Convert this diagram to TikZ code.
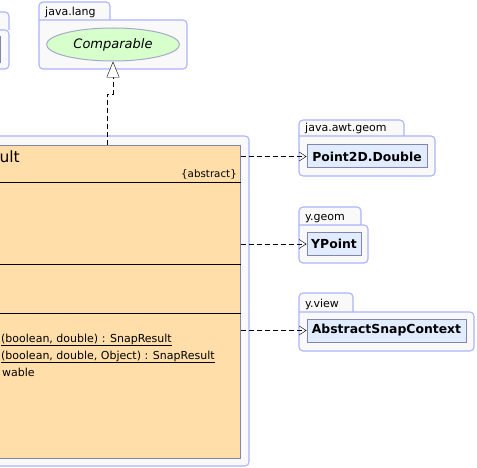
\documentclass[tikz,border=0pt]{standalone}
\usepackage{fontspec}
\setmainfont{DejaVu Sans}
\usetikzlibrary{shapes.geometric,arrows.meta}
\definecolor{pkgline}{RGB}{170,180,255}
\definecolor{pkgfill}{RGB}{249,249,249}
\definecolor{typeline}{RGB}{128,134,176}
\definecolor{typefill}{RGB}{226,236,255}
\definecolor{classfill}{RGB}{255,222,170}
\definecolor{ifacefill}{RGB}{214,255,204}
\begin{document}
\begin{tikzpicture}[x=1pt, y=-1pt,
    pkg/.style={draw=pkgline, fill=pkgfill, rounded corners=4pt, line width=1.1pt},
    pkglabel/.style={anchor=base west, inner sep=0pt, font=\fontsize{11}{13}\selectfont},
    type/.style={draw=typeline, fill=typefill, line width=1pt, inner sep=0pt, font=\fontsize{12.4}{15}\selectfont\bfseries},
    member/.style={anchor=base west, inner sep=0pt, font=\fontsize{11}{13}\selectfont},
    dep/.style={dash pattern=on 5pt off 3pt, -{Straight Barb[length=7pt,width=9pt]}},
    realize/.style={dash pattern=on 5pt off 3pt, -{Triangle[length=16pt,width=13pt,fill=white]}}]
    \useasboundingbox (0,0) rectangle (477,468);
    \clip (0,0) rectangle (477,468);

    \draw[pkg] (-60,30) -- (-60,12) -- (9,12) -- (9,30);
    \draw[pkg] (-60,30) -- (9,30) -- (9,69) -- (-60,69) -- (-60,30);
    \node[type, minimum width=61pt, minimum height=26pt, anchor=north east] (leftcls) at (1,36) {};

    \draw[pkg] (39,20) -- (39,2) -- (110,2) -- (110,20);
    \draw[pkg] (39,20) -- (187,20) -- (187,69) -- (39,69) -- (39,20);
    \node[pkglabel] (langlbl) at (45,16) {java.lang};
    \node[ellipse, draw=typeline!70, fill=ifacefill, line width=1pt, minimum width=133pt, minimum height=33pt, inner sep=0pt,
        font=\fontsize{13}{15}\selectfont\itshape] (cmp) at (113,44.5) {Comparable};

    \draw[pkg] (-60,136) -- (249,136) -- (249,466) -- (-60,466);
    \node[draw=typeline, fill=classfill, line width=1pt, minimum width=320pt, minimum height=313pt, inner sep=0pt,
        anchor=north east] (snap) at (241,145) {};
    \foreach \y in {183,264,313}
        \draw[line width=1pt] (snap.west |- 0,\y) -- (snap.east |- 0,\y);
    \node[anchor=base east, inner sep=0pt, font=\fontsize{15.5}{18}\selectfont] (title) at (20,163) {ult};
    \node[anchor=base east, inner sep=0pt, font=\fontsize{10.3}{12}\selectfont] (abs) at (237,178) {\{abstract\}};
    \node[member] (m1) at (1,342) {\underline{(boolean,\ double) : SnapResult}};
    \node[member] (m2) at (1,359) {\underline{(boolean,\ double,\ Object) : SnapResult}};
    \node[member] (m3) at (2,376) {wable};

    \draw[pkg] (299,136) -- (299,120) -- (404,120) -- (404,136);
    \draw[pkg] (299,136) -- (435,136) -- (435,176) -- (299,176) -- (299,136);
    \node[pkglabel] (awtlbl) at (305,132) {java.awt.geom};
    \node[type, minimum width=120pt, minimum height=23pt] (p2d) at (367,156.5) {Point2D.Double};

    \draw[pkg] (299,225) -- (299,207) -- (361,207) -- (361,225);
    \draw[pkg] (299,225) -- (368,225) -- (368,263) -- (299,263) -- (299,225);
    \node[pkglabel] (geomlbl) at (305,220.5) {y.geom};
    \node[type, minimum width=54pt, minimum height=22pt] (ypt) at (334,244) {YPoint};

    \draw[pkg] (299,312) -- (299,293) -- (353,293) -- (353,312);
    \draw[pkg] (299,312) -- (474,312) -- (474,351) -- (299,351) -- (299,312);
    \node[pkglabel] (viewlbl) at (305,307.5) {y.view};
    \node[type, minimum width=159pt, minimum height=23pt] (asc) at (386.5,330.5) {AbstractSnapContext};

    \coordinate (bend) at (107,94);
    \draw[realize] (bend |- snap.north) -- (bend) -| (cmp.south);
    \draw[dep] (snap.east |- p2d.west) -- (p2d.west);
    \draw[dep] (snap.east |- ypt.west) -- (ypt.west);
    \draw[dep] (snap.east |- asc.west) -- (asc.west);
\end{tikzpicture}
\end{document}
